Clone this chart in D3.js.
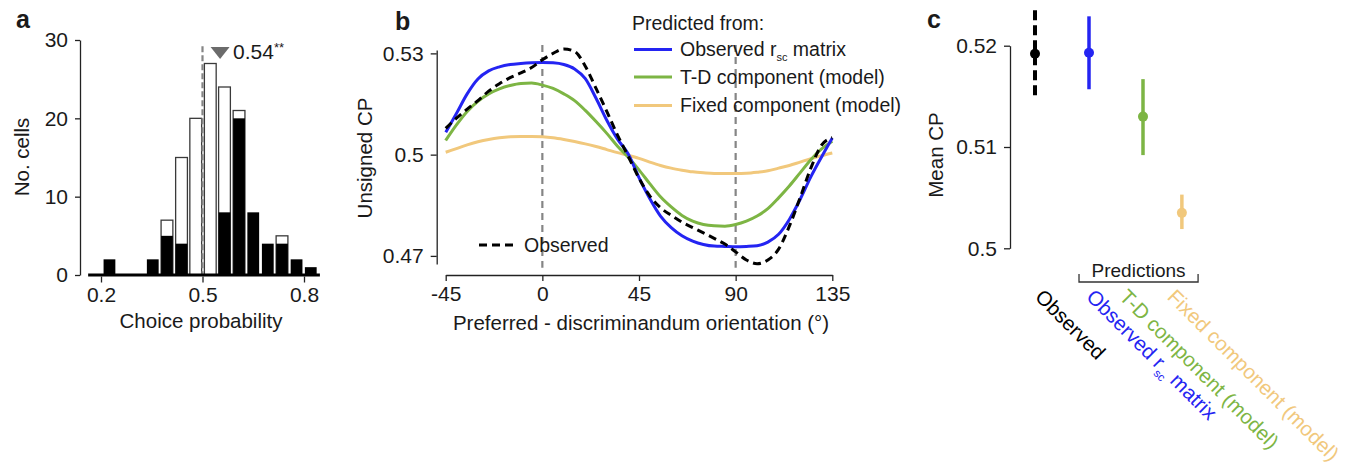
<!DOCTYPE html>
<html><head><meta charset="utf-8">
<script src="https://cdn.jsdelivr.net/npm/d3@7"></script>
<style>
body{margin:0;background:#fff;}
svg text{font-family:"Liberation Sans",Arial,Helvetica,sans-serif;fill:#1a1a1a;}
</style></head><body>
<svg id="chart" width="1367" height="466"></svg>
<script>
// ---------------- DATA ----------------
// Panel a: histogram of choice probabilities
const binCenters  = [0.225,0.268,0.310,0.353,0.395,0.438,0.480,0.523,0.565,0.608,0.650,0.693,0.735,0.778,0.820];
const totalCounts = [2,0,0,2,7,15,20,27,24,21,8,4,5,2,1];
const sigCounts   = [2,0,0,2,5,4,0,0,8,20,8,4,4,2,1];
const histXTicks  = [0.2,0.5,0.8];
const histYTicks  = [0,10,20,30];
const meanCPText  = "0.54";
const meanCPStars = "**";
const meanMarker  = 0.552;

// Panel b: unsigned CP vs orientation
const angles = [-45,-40,-35,-30,-25,-20,-15,-10,-5,0,5,10,15,20,25,30,35,40,45,50,55,60,65,70,75,80,85,90,95,100,105,110,115,120,125,130,135];
const cpObservedRsc = [.5066,.5122,.5180,.5224,.5248,.5260,.5267,.5270,.5272,.5273,.5272,.5267,.5254,.5225,.5167,.5102,.5046,.5002,.4932,.4870,.4818,.4784,.4760,.4744,.4734,.4729,.4728,.4727,.4728,.4730,.4741,.4764,.4808,.4867,.4934,.4993,.5049];
const cpTD = [.5042,.5088,.5128,.5158,.5180,.5195,.5205,.5211,.5212,.5206,.5196,.5180,.5160,.5131,.5098,.5063,.5025,.4992,.4955,.4914,.4875,.4845,.4820,.4803,.4793,.4789,.4788,.4793,.4803,.4818,.4840,.4872,.4907,.4946,.4985,.5017,.5040];
const cpFixed = [.5007,.5018,.5029,.5038,.5045,.5050,.5053,.5054,.5054,.5053,.5050,.5045,.5039,.5032,.5024,.5015,.5006,.4998,.4989,.4978,.4968,.4960,.4954,.4949,.4946,.4944,.4944,.4944,.4945,.4948,.4952,.4960,.4968,.4978,.4988,.4997,.5005];
const cpObserved = [.5078,.5108,.5135,.5160,.5188,.5210,.5228,.5242,.5258,.5281,.5300,.5313,.5306,.5262,.5196,.5128,.5058,.4995,.4930,.4878,.4843,.4820,.4800,.4784,.4768,.4752,.4735,.4712,.4688,.4677,.4688,.4720,.4788,.4872,.4960,.5028,.5050];
const angleTicks = [-45,0,45,90,135];
const cpTicks = [0.47,0.5,0.53];
const refAngles = [0,90];

// Panel c: mean CP
const meanCats  = ["Observed","Observed r_sc matrix","T-D component (model)","Fixed component (model)"];
const meanPos   = [1,2,3,3.72];
const labelPos  = [0.98,1.93,2.54,3.43];
const meanCP    = [0.5192,0.5193,0.5130,0.5035];
const meanLo    = [0.5147,0.5157,0.5092,0.5019];
const meanHi    = [0.5235,0.5229,0.5167,0.5053];
const meanTicks = [0.5,0.51,0.52];

// ---------------- STYLE ----------------
const C_BLUE = "#2424f2", C_GREEN = "#7db544", C_ORANGE = "#f1c87c", C_GRAY = "#858585", C_AX = "#222";
const TICK_FS = 21, LABEL_FS = 20.5;
const svg = d3.select("#chart");
const fmt = d => d3.format("~g")(d).replace("\u2212","-");

function styleAxis(g, fs){
  g.select(".domain").attr("stroke", C_AX).attr("stroke-width", 1.3);
  g.selectAll(".tick line").attr("stroke", C_AX).attr("stroke-width", 1.3);
  g.selectAll(".tick text").attr("font-size", fs).attr("font-family", null).attr("fill", "#1a1a1a");
  g.attr("font-family", null).attr("font-size", null);
}

// ---------------- PANEL A ----------------
const xA = d3.scaleLinear().domain([0.2,0.8]).range([101,304]);
const yA = d3.scaleLinear().domain([0,30]).range([275,40]);
const stepPx = xA(binCenters[1]) - xA(binCenters[0]);
const barW = stepPx * 0.81;
const gA = svg.append("g");

const bins = binCenters.map((c,i)=>({c, tot: totalCounts[i], sig: sigCounts[i]}));
gA.selectAll("rect.tot").data(bins.filter(d=>d.tot>d.sig)).join("rect")
  .attr("x", d=>xA(d.c)-barW/2).attr("width", barW)
  .attr("y", d=>yA(d.tot)).attr("height", d=>yA(0)-yA(d.tot))
  .attr("fill","#fff").attr("stroke","#3a3a3a").attr("stroke-width",1.3);
gA.selectAll("rect.sig").data(bins.filter(d=>d.sig>0)).join("rect")
  .attr("x", d=>xA(d.c)-barW/2).attr("width", barW)
  .attr("y", d=>yA(d.sig)).attr("height", d=>yA(0)-yA(d.sig))
  .attr("fill","#000");

// chance line
gA.append("line").attr("x1",xA(0.5)).attr("x2",xA(0.5)).attr("y1",yA(29.2)).attr("y2",yA(0))
  .attr("stroke",C_GRAY).attr("stroke-width",2.2).attr("stroke-dasharray","6,3");
// baseline
gA.append("line").attr("x1",xA(0.162)).attr("x2",xA(0.847)).attr("y1",yA(0)).attr("y2",yA(0))
  .attr("stroke","#000").attr("stroke-width",3);
// marker
const mx = xA(meanMarker), mtop = yA(29.1);
gA.append("path").attr("d",`M${mx-9.5},${mtop}L${mx+9.5},${mtop}L${mx},${mtop+12}Z`).attr("fill","#6b6b6b");
const mt = gA.append("text").attr("x", mx+13).attr("y", mtop+11.5).attr("font-size",TICK_FS);
mt.append("tspan").text(meanCPText);
mt.append("tspan").attr("font-size",13).attr("dy",-7).text(meanCPStars);

const axYA = gA.append("g").attr("transform",`translate(80,0)`)
  .call(d3.axisLeft(yA).tickValues(histYTicks).tickSize(5).tickSizeOuter(0).tickPadding(7));
styleAxis(axYA, TICK_FS);
const axXA = gA.append("g").attr("transform",`translate(0,${yA(0)+1.5})`)
  .call(d3.axisBottom(xA).tickValues(histXTicks).tickSize(6).tickSizeOuter(0).tickPadding(5).tickFormat(fmt));
axXA.select(".domain").remove();
styleAxis(axXA, TICK_FS);
gA.append("text").attr("x",(xA(0.162)+xA(0.847))/2-3).attr("y",328).attr("text-anchor","middle").attr("font-size",LABEL_FS).text("Choice probability");
gA.append("text").attr("transform","translate(29,157) rotate(-90)").attr("text-anchor","middle").attr("font-size",LABEL_FS).text("No. cells");
svg.append("text").attr("x",16).attr("y",28).attr("font-size",25).attr("font-weight","bold").text("a");

// ---------------- PANEL B ----------------
const xB = d3.scaleLinear().domain([-45,135]).range([445.7,832.3]);
const yB = d3.scaleLinear().domain([0.4676,0.531]).range([264,50]);
const gB = svg.append("g");
gB.selectAll("line.ref").data(refAngles).join("line")
  .attr("x1",d=>xB(d)).attr("x2",d=>xB(d)).attr("y1",yB(0.5325)).attr("y2",yB(0.4665))
  .attr("stroke",C_GRAY).attr("stroke-width",2.2).attr("stroke-dasharray","7,5");

const line = d3.line().x(d=>xB(d[0])).y(d=>yB(d[1])).curve(d3.curveMonotoneX);
const series = [
  {v: cpFixed, c: C_ORANGE, dash: null},
  {v: cpTD, c: C_GREEN, dash: null},
  {v: cpObservedRsc, c: C_BLUE, dash: null},
  {v: cpObserved, c: "#000", dash: "8,5"}
];
series.forEach(s=>{
  gB.append("path").datum(angles.map((a,i)=>[a, s.v[i]])).attr("d", line)
    .attr("fill","none").attr("stroke", s.c).attr("stroke-width",3)
    .attr("stroke-dasharray", s.dash);
});

const axYB = gB.append("g").attr("transform","translate(436.7,0)")
  .call(d3.axisLeft(yB).tickValues(cpTicks).tickSize(6).tickSizeOuter(0).tickPadding(7).tickFormat(fmt));
styleAxis(axYB, TICK_FS);
const axXB = gB.append("g").attr("transform","translate(0,275)")
  .call(d3.axisBottom(xB).tickValues(angleTicks).tickSize(6).tickSizeOuter(0).tickPadding(5).tickFormat(fmt));
styleAxis(axXB, TICK_FS);
gB.append("text").attr("x",(xB(-45)+xB(135))/2+2).attr("y",330).attr("text-anchor","middle").attr("font-size",LABEL_FS)
  .text("Preferred - discriminandum orientation (°)");
gB.append("text").attr("transform","translate(372,158) rotate(-90)").attr("text-anchor","middle").attr("font-size",LABEL_FS).text("Unsigned CP");
svg.append("text").attr("x",395).attr("y",30).attr("font-size",25).attr("font-weight","bold").text("b");

// legend
const lg = gB.append("g");
lg.append("text").attr("x",632).attr("y",29.5).attr("font-size",19.5).text("Predicted from:");
const legItems = [
  {c:C_BLUE, y:49.5, parts:[["Observed r",0],["sc",1],[" matrix",2]]},
  {c:C_GREEN, y:77, parts:[["T-D component (model)",0]]},
  {c:C_ORANGE, y:105.5, parts:[["Fixed component (model)",0]]}
];
legItems.forEach(it=>{
  lg.append("line").attr("x1",634).attr("x2",672).attr("y1",it.y).attr("y2",it.y).attr("stroke",it.c).attr("stroke-width",3.2);
  const t = lg.append("text").attr("x",680).attr("y",it.y+6.5).attr("font-size",19.5);
  it.parts.forEach(p=>{
    const ts = t.append("tspan").text(p[0]);
    if(p[1]===1) ts.attr("font-size",11).attr("dy",5);
    if(p[1]===2) ts.attr("dy",-5);
  });
});
lg.append("line").attr("x1",479).attr("x2",516).attr("y1",245).attr("y2",245).attr("stroke","#000").attr("stroke-width",3).attr("stroke-dasharray","8,5");
lg.append("text").attr("x",524).attr("y",251.5).attr("font-size",19.5).text("Observed");

// ---------------- PANEL C ----------------
const xC = d3.scaleLinear().domain([1,2]).range([1035,1089]);
const yC = d3.scaleLinear().domain([0.5,0.52]).range([248.3,45.7]);
const colsC = ["#000", C_BLUE, C_GREEN, C_ORANGE];
const gC = svg.append("g");
meanCP.forEach((m,i)=>{
  gC.append("line").attr("x1",xC(meanPos[i])).attr("x2",xC(meanPos[i]))
    .attr("y1",yC(meanHi[i])).attr("y2",yC(meanLo[i]))
    .attr("stroke",colsC[i]).attr("stroke-width", i===0?4:3.5)
    .attr("stroke-dasharray", i===0?"10,5":null);
  gC.append("circle").attr("cx",xC(meanPos[i])).attr("cy",yC(m)).attr("r",5).attr("fill",colsC[i]);
});
const axYC = gC.append("g").attr("transform","translate(1010,0)")
  .call(d3.axisLeft(yC).tickValues(meanTicks).tickSize(6).tickSizeOuter(0).tickPadding(7).tickFormat(fmt));
styleAxis(axYC, TICK_FS);
gC.append("text").attr("transform","translate(943,155) rotate(-90)").attr("text-anchor","middle").attr("font-size",LABEL_FS).text("Mean CP");
svg.append("text").attr("x",927).attr("y",28).attr("font-size",25).attr("font-weight","bold").text("c");

// predictions bracket
const bx1 = xC(1.815), bx2 = xC(4.02);
gC.append("path").attr("d",`M${bx1},274V282H${bx2}V274`).attr("fill","none").attr("stroke","#333").attr("stroke-width",1.3);
gC.append("text").attr("x",(bx1+bx2)/2).attr("y",277).attr("text-anchor","middle").attr("font-size",19).text("Predictions");

// rotated category labels
meanCats.forEach((cat,i)=>{
  const t = gC.append("text").attr("transform",`translate(${xC(labelPos[i])},298) rotate(45)`)
    .attr("font-size",20.5).style("fill",colsC[i]);
  if(cat.includes("r_sc")){
    t.append("tspan").text("Observed r");
    t.append("tspan").attr("font-size",11.5).attr("dy",6).text("sc");
    t.append("tspan").attr("dy",-6).text(" matrix");
  } else {
    t.text(cat);
  }
});
</script>
</body></html>
